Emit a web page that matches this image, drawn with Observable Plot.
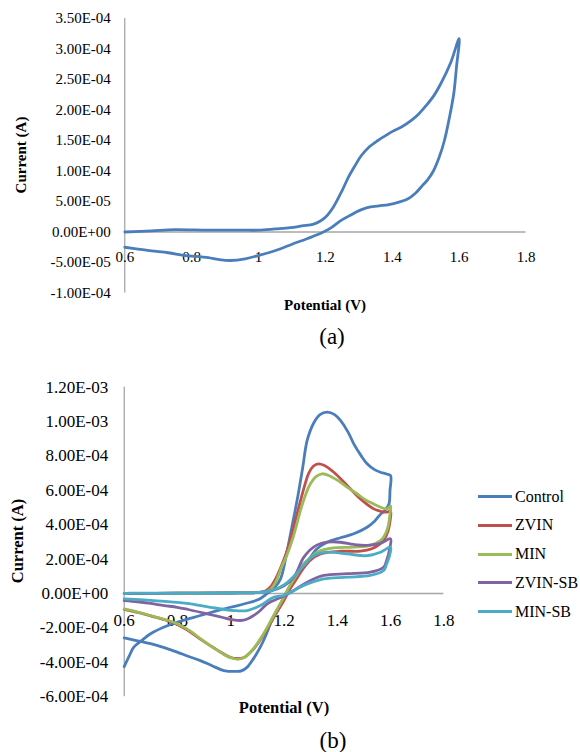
<!DOCTYPE html>
<html>
<head>
<meta charset="utf-8">
<script src="https://cdn.jsdelivr.net/npm/d3@7"></script>
<script src="https://cdn.jsdelivr.net/npm/@observablehq/plot@0.6"></script>
<style>
  html, body { margin: 0; padding: 0; background: #fff; }
  #wrap { position: relative; width: 580px; height: 752px; font-family: "Liberation Serif", Tinos, "Times New Roman", Times, "DejaVu Serif", "Noto Serif", serif; color: #000; overflow: hidden; }
  #wrap svg { position: absolute; left: 0; overflow: visible; }
  .lbl { position: absolute; white-space: nowrap; transform: translate(-50%, -50%); line-height: 1; }
  .bold { font-weight: bold; }
  .rot { transform: translate(-50%, -50%) rotate(-90deg); }
  .legline { position: absolute; height: 3px; }
  .legtxt { position: absolute; white-space: nowrap; transform: translateY(-50%); font-size: 16px; line-height: 1; }
</style>
</head>
<body>
<div id="wrap"></div>
<script>
// ---------- Panel (a) ----------
const aXTicks = [0.6, 0.8, 1.0, 1.2, 1.4, 1.6, 1.8];
const aXLabels = ["0.6", "0.8", "1", "1.2", "1.4", "1.6", "1.8"];
const aYTicks = [-1e-4, -5e-5, 0, 5e-5, 1e-4, 1.5e-4, 2e-4, 2.5e-4, 3e-4, 3.5e-4];
const aYLabels = ["-1.00E-04", "-5.00E-05", "0.00E+00", "5.00E-05", "1.00E-04", "1.50E-04", "2.00E-04", "2.50E-04", "3.00E-04", "3.50E-04"];
// [potential (V), current (A)] in scan order
const scanA = [
  [0.6, 0], [0.68, 0.2e-5], [0.75, 0.4e-5], [0.85, 0.3e-5], [0.95, 0.3e-5], [1.0, 0.3e-5], [1.05, 0.5e-5], [1.095, 0.7e-5],
  [1.13, 1.0e-5], [1.165, 1.3e-5], [1.185, 1.8e-5], [1.2, 2.4e-5], [1.224, 4.1e-5], [1.25, 6.8e-5], [1.269, 9.0e-5],
  [1.29, 1.1e-4], [1.307, 1.25e-4], [1.33, 1.39e-4], [1.357, 1.5e-4], [1.38, 1.58e-4], [1.401, 1.65e-4], [1.43, 1.73e-4],
  [1.457, 1.83e-4], [1.48, 1.94e-4], [1.501, 2.07e-4], [1.525, 2.24e-4], [1.545, 2.43e-4], [1.575, 2.78e-4], [1.6, 3.17e-4],
  [1.592, 2.7e-4], [1.584, 2.27e-4], [1.57, 1.85e-4], [1.556, 1.5e-4], [1.54, 1.22e-4], [1.523, 1.0e-4], [1.505, 8.5e-5],
  [1.49, 7.6e-5], [1.47, 6.4e-5], [1.446, 5.4e-5], [1.42, 4.9e-5], [1.39, 4.5e-5], [1.36, 4.3e-5], [1.335, 4.1e-5],
  [1.31, 3.7e-5], [1.291, 3.25e-5], [1.27, 2.6e-5], [1.247, 1.9e-5], [1.22, 8e-6], [1.191, -1e-6], [1.145, -1.1e-5],
  [1.1, -2.0e-5], [1.066, -2.75e-5], [1.03, -3.4e-5], [0.996, -3.9e-5], [0.96, -4.4e-5], [0.916, -4.67e-5], [0.88, -4.5e-5],
  [0.85, -4.2e-5], [0.8, -3.95e-5], [0.776, -3.85e-5], [0.73, -3.4e-5], [0.68, -3.1e-5], [0.64, -2.8e-5], [0.6, -2.5e-5]
];

// ---------- Panel (b) ----------
const bXTicks = [0.6, 0.8, 1.0, 1.2, 1.4, 1.6, 1.8];
const bXLabels = ["0.6", "0.8", "1", "1.2", "1.4", "1.6", "1.8"];
const bYTicks = [-6e-4, -4e-4, -2e-4, 0, 2e-4, 4e-4, 6e-4, 8e-4, 1e-3, 1.2e-3];
const bYLabels = ["-6.00E-04", "-4.00E-04", "-2.00E-04", "0.00E+00", "2.00E-04", "4.00E-04", "6.00E-04", "8.00E-04", "1.00E-03", "1.20E-03"];
const seriesNames = ["Control", "ZVIN", "MIN", "ZVIN-SB", "MIN-SB"];
const seriesColors = ["#4A7EBB", "#C0504D", "#9BBB59", "#8064A2", "#4BACC6"];

const controlScan = [
  [0.6, -4.25e-4], [0.62, -3.6e-4], [0.636, -3.12e-4], [0.67, -2.68e-4], [0.699, -2.34e-4], [0.75, -1.95e-4], [0.799, -1.67e-4],
  [0.886, -1.28e-4], [0.95, -1.0e-4], [0.999, -8.0e-5], [1.074, -5.1e-5], [1.11, -3e-5], [1.137, 0], [1.165, 3.5e-5],
  [1.187, 8.5e-5], [1.212, 2.5e-4], [1.23, 3.9e-4], [1.249, 5.4e-4], [1.27, 7.3e-4], [1.287, 8.9e-4], [1.311, 9.9e-4],
  [1.335, 1.04e-3], [1.362, 1.054e-3], [1.39, 1.04e-3], [1.412, 1.006e-3], [1.44, 9.4e-4], [1.462, 8.7e-4], [1.49, 8.0e-4],
  [1.512, 7.54e-4], [1.54, 7.2e-4], [1.562, 7.05e-4], [1.585, 6.95e-4], [1.6, 6.86e-4],
  [1.598, 6.0e-4], [1.594, 5.2e-4], [1.58, 4.85e-4], [1.562, 4.6e-4], [1.54, 4.2e-4], [1.512, 3.85e-4], [1.462, 3.47e-4],
  [1.412, 3.24e-4], [1.362, 2.98e-4], [1.324, 2.6e-4], [1.29, 1.9e-4], [1.25, 1.1e-4], [1.212, 1.7e-5], [1.187, -6e-5],
  [1.165, -1.2e-4], [1.149, -1.76e-4], [1.13, -2.5e-4], [1.111, -3.12e-4], [1.085, -3.8e-4], [1.062, -4.28e-4], [1.04, -4.5e-4],
  [1.024, -4.53e-4], [0.974, -4.48e-4], [0.93, -4.2e-4], [0.886, -3.9e-4], [0.84, -3.65e-4], [0.799, -3.41e-4], [0.75, -3.15e-4],
  [0.699, -2.92e-4], [0.65, -2.75e-4], [0.6, -2.58e-4]
];
const zvinScan = [
  [0.6, 0], [0.8, 2e-6], [1.0, 3e-6], [1.1, 6e-6], [1.13, 1.5e-5], [1.15, 4e-5], [1.17, 9e-5], [1.19, 1.6e-4], [1.212, 2.5e-4],
  [1.235, 3.8e-4], [1.262, 5.4e-4], [1.28, 6.4e-4], [1.293, 7.0e-4], [1.31, 7.4e-4], [1.33, 7.54e-4], [1.35, 7.45e-4],
  [1.387, 7.05e-4], [1.437, 6.28e-4], [1.487, 5.5e-4], [1.537, 4.92e-4], [1.57, 4.75e-4], [1.587, 4.73e-4], [1.6, 4.8e-4],
  [1.598, 4.2e-4], [1.59, 3.6e-4], [1.575, 3.1e-4], [1.562, 2.9e-4], [1.53, 2.6e-4], [1.487, 2.46e-4], [1.412, 2.46e-4],
  [1.337, 2.3e-4], [1.3, 1.95e-4], [1.27, 1.4e-4], [1.245, 8e-5], [1.22, 2e-5], [1.2, -4e-5], [1.175, -1.05e-4], [1.15, -1.7e-4],
  [1.125, -2.35e-4], [1.1, -2.95e-4], [1.074, -3.42e-4], [1.05, -3.72e-4], [1.025, -3.78e-4], [1.0, -3.72e-4], [0.961, -3.4e-4],
  [0.92, -3.0e-4], [0.886, -2.65e-4], [0.85, -2.25e-4], [0.799, -1.8e-4], [0.75, -1.52e-4], [0.699, -1.3e-4], [0.65, -1.1e-4],
  [0.6, -9.2e-5]
];
const minScan = [
  [0.6, 0], [0.8, 2e-6], [1.0, 3e-6], [1.1, 5e-6], [1.13, 1e-5], [1.15, 2.5e-5], [1.17, 7e-5], [1.19, 1.5e-4], [1.21, 2.2e-4],
  [1.235, 3.3e-4], [1.262, 4.83e-4], [1.28, 5.7e-4], [1.299, 6.38e-4], [1.32, 6.8e-4], [1.343, 6.96e-4], [1.37, 6.85e-4],
  [1.412, 6.47e-4], [1.44, 6.15e-4], [1.474, 5.8e-4], [1.505, 5.45e-4], [1.537, 5.2e-4], [1.565, 5.0e-4], [1.587, 4.92e-4],
  [1.6, 5.1e-4],
  [1.597, 4.5e-4], [1.59, 3.85e-4], [1.575, 3.3e-4], [1.562, 3.08e-4], [1.524, 2.8e-4], [1.462, 2.7e-4], [1.387, 2.65e-4],
  [1.35, 2.55e-4], [1.324, 2.4e-4], [1.3, 2.1e-4], [1.274, 1.73e-4], [1.25, 1.15e-4], [1.22, 4e-5], [1.2, -2e-5],
  [1.175, -9e-5], [1.15, -1.6e-4], [1.125, -2.3e-4], [1.1, -2.9e-4], [1.074, -3.4e-4], [1.053, -3.7e-4], [1.03, -3.82e-4],
  [1.01, -3.78e-4], [0.98, -3.6e-4], [0.961, -3.41e-4], [0.92, -3.0e-4], [0.886, -2.63e-4], [0.85, -2.2e-4], [0.799, -1.76e-4],
  [0.75, -1.5e-4], [0.699, -1.28e-4], [0.65, -1.08e-4], [0.6, -8.9e-5]
];
const zvinSbScan = [
  [0.6, 0], [0.8, 2e-6], [1.0, 3e-6], [1.1, 6e-6], [1.15, 1.5e-5], [1.2, 4.5e-5], [1.237, 9.5e-5], [1.274, 2.1e-4],
  [1.311, 2.7e-4], [1.362, 2.98e-4], [1.412, 2.98e-4], [1.462, 2.85e-4], [1.512, 2.8e-4], [1.562, 2.92e-4], [1.6, 3.18e-4],
  [1.598, 2.7e-4], [1.585, 1.9e-4], [1.574, 1.53e-4], [1.524, 1.24e-4], [1.437, 1.15e-4], [1.349, 1.05e-4], [1.287, 6.6e-5],
  [1.237, 1.7e-5], [1.2, -1.5e-5], [1.17, -3.5e-5], [1.137, -6e-5], [1.11, -1.0e-4], [1.086, -1.28e-4], [1.06, -1.5e-4],
  [1.036, -1.57e-4], [1.0, -1.5e-4], [0.974, -1.41e-4], [0.93, -1.25e-4], [0.886, -1.09e-4], [0.84, -9.3e-5], [0.799, -8e-5],
  [0.75, -7e-5], [0.7, -5.8e-5], [0.65, -4.8e-5], [0.6, -4.1e-5]
];
const minSbScan = [
  [0.6, 0], [0.62, 2e-6], [0.8, 2e-6], [1.0, 3e-6], [1.1, 6e-6], [1.15, 1.5e-5], [1.2, 5e-5], [1.237, 1.0e-4], [1.274, 1.63e-4],
  [1.311, 2.2e-4], [1.362, 2.4e-4], [1.437, 2.3e-4], [1.512, 2.2e-4], [1.562, 2.4e-4], [1.6, 2.7e-4],
  [1.598, 2.3e-4], [1.585, 1.7e-4], [1.574, 1.34e-4], [1.524, 1.05e-4], [1.437, 9.5e-5], [1.349, 8.5e-5], [1.287, 5.6e-5],
  [1.224, 8e-6], [1.2, -1e-5], [1.161, -2.2e-5], [1.111, -7e-5], [1.062, -9.9e-5], [1.011, -9.9e-5], [0.924, -8e-5],
  [0.85, -6e-5], [0.799, -5.1e-5], [0.7, -4e-5], [0.6, -3.1e-5]
];
const scansB = [controlScan, zvinScan, minScan, zvinSbScan, minSbScan];

// ---------- build ----------
const wrap = document.getElementById("wrap");
const FONT = '"Liberation Serif", Tinos, "Times New Roman", Times, "DejaVu Serif", "Noto Serif", serif';

const rowsA = scanA.map(([v, i]) => ({v, i}));
const rowsB = scansB.flatMap((scan, k) => scan.map(([v, i]) => ({series: seriesNames[k], v, i})));

const plotA = Plot.plot({
  width: 580, height: 320,
  marginLeft: 124.3, marginRight: 54.5, marginTop: 18, marginBottom: 27.5,
  style: {fontFamily: FONT, fontSize: "15px", color: "#000", background: "transparent"},
  x: {domain: [0.6, 1.8], axis: null},
  y: {domain: [-1e-4, 3.5e-4], ticks: aYTicks, tickFormat: d => aYLabels[aYTicks.indexOf(d)], tickSize: 0, tickPadding: 14, label: null},
  marks: [
    Plot.ruleY([0], {x1: 0.6, x2: 1.8, stroke: "#a6a6a6", strokeWidth: 1.3}),
    Plot.ruleX([0.6], {y1: -1e-4, y2: 3.5e-4, stroke: "#8c8c8c", strokeWidth: 1}),
    Plot.text(aXTicks, {x: d => d, y: () => 0, text: (d, k) => aXLabels[k], dy: 25, fontSize: 15, fill: "#000"}),
    Plot.line(rowsA, {x: "v", y: "i", stroke: seriesColors[0], strokeWidth: 2.8, curve: "catmull-rom"})
  ]
});
plotA.style.top = "0px";
plotA.style.fontFamily = FONT;
wrap.appendChild(plotA);

const plotB = Plot.plot({
  width: 580, height: 350,
  marginLeft: 123.7, marginRight: 136.7, marginTop: 16.6, marginBottom: 23.8,
  style: {fontFamily: FONT, fontSize: "17px", color: "#000", background: "transparent"},
  x: {domain: [0.6, 1.8], axis: null},
  y: {domain: [-6e-4, 1.2e-3], ticks: bYTicks, tickFormat: d => bYLabels[bYTicks.indexOf(d)], tickSize: 0, tickPadding: 16, label: null},
  color: {domain: seriesNames, range: seriesColors},
  marks: [
    Plot.ruleY([0], {x1: 0.6, x2: 1.8, stroke: "#a6a6a6", strokeWidth: 1.3}),
    Plot.ruleX([0.6], {y1: -6e-4, y2: 1.2e-3, stroke: "#8c8c8c", strokeWidth: 1}),
    Plot.text(bXTicks, {x: d => d, y: () => 0, text: (d, k) => bXLabels[k], dy: 27.5, fontSize: 17, fill: "#000"}),
    Plot.line(rowsB, {x: "v", y: "i", z: "series", stroke: "series", strokeWidth: 2.8, curve: "catmull-rom"})
  ]
});
plotB.style.top = "370px";
plotB.style.fontFamily = FONT;
wrap.appendChild(plotB);

function addLabel(text, x, y, size, cls) {
  const d = document.createElement("div");
  d.className = "lbl " + (cls || "");
  d.textContent = text;
  d.style.left = x + "px";
  d.style.top = y + "px";
  d.style.fontSize = size + "px";
  wrap.appendChild(d);
}
addLabel("Current (A)", 21, 155, 15, "bold rot");
addLabel("Potential (V)", 325, 305, 15, "bold");
addLabel("(a)", 332, 336, 23, "");
addLabel("Current (A)", 18, 541, 16.5, "bold rot");
addLabel("Potential (V)", 284, 708, 16.5, "bold");
addLabel("(b)", 333, 740, 23, "");

// legend
seriesNames.forEach((name, k) => {
  const cy = 496.7 + k * 28.75;
  const ln = document.createElement("div");
  ln.className = "legline";
  ln.style.left = "478px";
  ln.style.width = "34px";
  ln.style.top = (cy - 1.5) + "px";
  ln.style.background = seriesColors[k];
  wrap.appendChild(ln);
  const t = document.createElement("div");
  t.className = "legtxt";
  t.textContent = name;
  t.style.left = "515px";
  t.style.top = cy + "px";
  wrap.appendChild(t);
});
</script>
</body>
</html>
